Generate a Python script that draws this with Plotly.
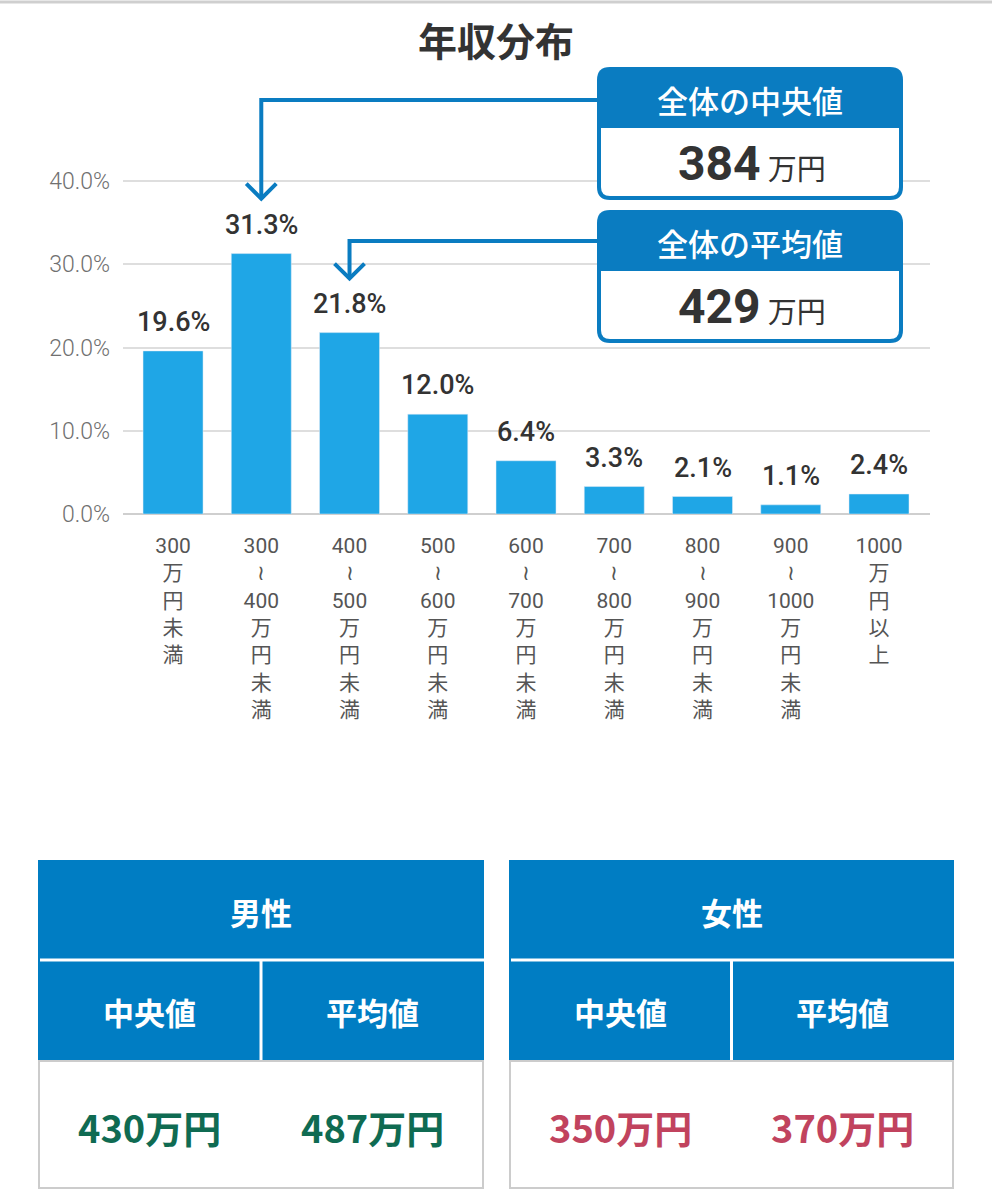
import plotly.graph_objs as go

# data
categories = ['300<br>万<br>円<br>未<br>満',
              '300<br>≀<br>400<br>万<br>円<br>未<br>満',
              '400<br>≀<br>500<br>万<br>円<br>未<br>満',
              '500<br>≀<br>600<br>万<br>円<br>未<br>満',
              '600<br>≀<br>700<br>万<br>円<br>未<br>満',
              '700<br>≀<br>800<br>万<br>円<br>未<br>満',
              '800<br>≀<br>900<br>万<br>円<br>未<br>満',
              '900<br>≀<br>1000<br>万<br>円<br>未<br>満',
              '1000<br>万<br>円<br>以<br>上']
shares = [19.6, 31.3, 21.8, 12.0, 6.4, 3.3, 2.1, 1.1, 2.4]
y_ticks = [0, 10, 20, 30, 40]
overall_median = 384
overall_mean = 429
male_stats = [430, 487]      # median, mean
female_stats = [350, 370]    # median, mean

W, H = 992, 1200
BLUE = '#0a7cc1'
BAR = '#1fa6e6'
FONT = 'Roboto, Noto Sans CJK JP, sans-serif'
CJK = 'Noto Sans CJK JP, sans-serif'


def px(x, y):
    # pixel position -> paper coords
    return x / W, 1 - y / H


def rpath(x0, y0, x1, y1, r, top=True, bottom=True):
    rt = r if top else 0
    rb = r if bottom else 0
    pts = []
    pts.append('M %f,%f' % px(x0 + rt, y0))
    pts.append('L %f,%f' % px(x1 - rt, y0))
    pts.append('Q %f,%f %f,%f' % (px(x1, y0) + px(x1, y0 + rt)))
    pts.append('L %f,%f' % px(x1, y1 - rb))
    pts.append('Q %f,%f %f,%f' % (px(x1, y1) + px(x1 - rb, y1)))
    pts.append('L %f,%f' % px(x0 + rb, y1))
    pts.append('Q %f,%f %f,%f' % (px(x0, y1) + px(x0, y1 - rb)))
    pts.append('L %f,%f' % px(x0, y0 + rt))
    pts.append('Q %f,%f %f,%f' % (px(x0, y0) + px(x0 + rt, y0)))
    return ' '.join(pts) + ' Z'


def note(x, y, text, size, color, family=CJK, weight=None):
    a, b = px(x, y)
    font = dict(family=family, size=size, color=color)
    if weight:
        font['weight'] = weight
    fig.add_annotation(xref='paper', yref='paper', x=a, y=b, text=text,
                       showarrow=False, xanchor='center', yanchor='middle',
                       font=font)


def cat_index(val):
    return min(max(int(val // 100) - 2, 0), len(shares) - 1)


bars = go.Bar(x=list(range(len(shares))), y=shares, marker=dict(color=BAR),
              hoverinfo='skip')

layout = go.Layout(
    width=W, height=H, autosize=False,
    margin=dict(l=0, r=0, t=0, b=0),
    plot_bgcolor='white', paper_bgcolor='white',
    showlegend=False, bargap=0.32,
    title=dict(text='<b>年収分布</b>', x=0.5, xanchor='center', y=1 - 42 / H,
               yanchor='middle', font=dict(family=CJK, size=39, color='#333')),
    xaxis=dict(domain=[123 / W, 930 / W], range=[-0.567, 8.578],
               tickmode='array', tickvals=list(range(len(shares))),
               ticktext=categories, showgrid=False, zeroline=False,
               showline=False, ticklabelstandoff=17,
               tickfont=dict(family=FONT, size=21, color='#555'),
               automargin=False, fixedrange=True),
    yaxis=dict(domain=[1 - 514 / H, 1 - 98 / H], range=[0, 50],
               tickmode='array', tickvals=y_ticks,
               ticktext=['%.1f%%' % t for t in y_ticks],
               showgrid=True, gridcolor='#dedede', gridwidth=1.5,
               zeroline=True, zerolinecolor='#cfcfcf', zerolinewidth=2,
               showline=False, ticklabelstandoff=12,
               tickfont=dict(family=FONT, size=23, color='#707070', weight=300),
               automargin=False, fixedrange=True),
)

fig = go.Figure(data=[bars], layout=layout)

# value labels
for i, v in enumerate(shares):
    fig.add_annotation(x=i, y=v, text='%.1f%%' % v, showarrow=False,
                       yanchor='bottom', yshift=11,
                       font=dict(family=FONT, size=27, color='#333', weight=500))

# arrows from boxes to categories
arrows = [(overall_median, 49.76, 37.9), (overall_mean, 32.8, 28.3)]
for val, ytop, ytip in arrows:
    c = cat_index(val)
    fig.add_shape(type='path', xref='x', yref='y',
                  path='M 5.2,%f L %d,%f L %d,%f' % (ytop, c, ytop, c, ytip + 0.2),
                  line=dict(color=BLUE, width=4))
    fig.add_shape(type='path', xref='x', yref='y',
                  path='M %f,%f L %d,%f L %f,%f' % (c - 0.17, ytip + 1.8, c, ytip,
                                                    c + 0.17, ytip + 1.8),
                  line=dict(color=BLUE, width=4))

# summary boxes
boxes = [('全体の中央値', overall_median, 67), ('全体の平均値', overall_mean, 210)]
for label, val, top in boxes:
    fig.add_shape(type='path', xref='paper', yref='paper',
                  path=rpath(597, top, 903, top + 133, 13),
                  fillcolor=BLUE, line=dict(width=0))
    fig.add_shape(type='path', xref='paper', yref='paper',
                  path=rpath(601, top + 61, 899, top + 129, 9, top=False),
                  fillcolor='white', line=dict(width=0))
    note(750, top + 32, label, 31, 'white', weight=500)
    note(752, top + 96,
         '<b>%d</b><span style="font-size:29px"> 万円</span>' % val,
         48, '#333', family=FONT)

# top border line
fig.add_shape(type='line', xref='paper', yref='paper', x0=0, x1=1,
              y0=1 - 2 / H, y1=1 - 2 / H, line=dict(color='#cfcfcf', width=3))

# gender tables
tables = [('男性', male_stats, 38, 484, '#0f6b52'),
          ('女性', female_stats, 509, 954, '#c1435e')]
for name, stats, x0, x1, col in tables:
    xm = (x0 + x1) / 2
    a0, b0 = px(x0, 860)
    a1, b1 = px(x1, 1060)
    fig.add_shape(type='rect', xref='paper', yref='paper', x0=a0, x1=a1,
                  y0=b1, y1=b0, fillcolor='#007dc3', line=dict(width=0))
    a, b = px(x0 + 2, 960)
    fig.add_shape(type='line', xref='paper', yref='paper', x0=a, x1=a1,
                  y0=b, y1=b, line=dict(color='white', width=3))
    a, b = px(xm, 960)
    fig.add_shape(type='line', xref='paper', yref='paper', x0=a, x1=a,
                  y0=b, y1=b1, line=dict(color='white', width=3))
    c0, d0 = px(x0 + 1, 1061)
    c1, d1 = px(x1 - 1, 1188)
    fig.add_shape(type='rect', xref='paper', yref='paper', x0=c0, x1=c1,
                  y0=d1, y1=d0, fillcolor='white', line=dict(color='#cccccc', width=2))
    note(xm, 911, '<b>%s</b>' % name, 31, 'white')
    for k, head in enumerate(['中央値', '平均値']):
        xc = x0 + (xm - x0) * (k + 0.5)
        note(xc, 1011, '<b>%s</b>' % head, 31, 'white')
        note(xc, 1126, '<b>%d万円</b>' % stats[k], 38, col)

fig.write_html('out.html', config={'displayModeBar': False},
               post_script="document.body.style.margin='0';")
